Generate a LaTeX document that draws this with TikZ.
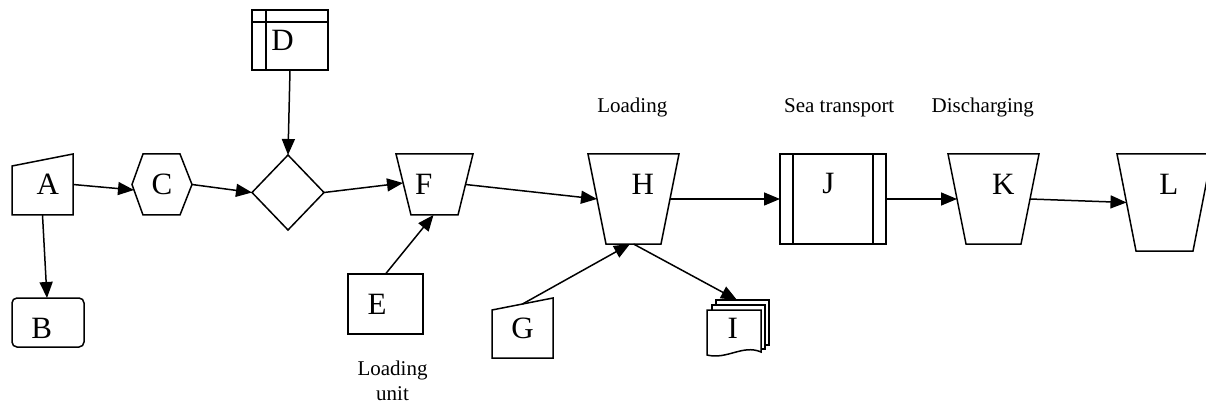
\documentclass[tikz,border=0pt]{standalone}
\usepackage{fontspec}
\setmainfont{Liberation Serif}
\usetikzlibrary{arrows.meta}
\begin{document}
\begin{tikzpicture}[x=1pt,y=-1pt,
  line width=1.5pt, line join=miter,
  frame/.style={draw=none,inner sep=0pt,outer sep=0pt,minimum width=#1},
  boxed/.style={draw,fill=white,inner sep=0pt,outer sep=0pt,minimum width=#1},
  outline/.style={draw,fill=white},
  letter/.style={inner sep=0pt,anchor=base,font=\fontsize{31}{34}\selectfont},
  note/.style={inner sep=0pt,anchor=base,font=\fontsize{21}{25}\selectfont},
  conn/.style={-{Triangle[length=16pt,width=13pt]}}
]
\useasboundingbox (0,0) rectangle (1206,403);

% ---------- shape nodes ----------
\node[frame=61, minimum height=61] (A) at (42.5,184.5) {};
\node[boxed=72, minimum height=49, rounded corners=5pt] (B) at (48,322.5) {};
\node[frame=60, minimum height=61] (C) at (162,184.5) {};
\node[frame=72, minimum height=75] (Dm) at (288,192.5) {};
\node[boxed=76, minimum height=60] (D) at (290,40) {};
\node[boxed=75, minimum height=60] (E) at (385.5,304) {};
\node[frame=77, minimum height=61] (F) at (434.5,184.5) {};
\node[frame=61, minimum height=60] (G) at (522.5,328) {};
\node[frame=91, minimum height=90] (H) at (633.5,199) {};
\node[frame=62, minimum height=58] (I) at (738,329) {};
\node[boxed=106, minimum height=90] (J) at (833,199) {};
\node[frame=91, minimum height=90] (K) at (993.5,199) {};
\node[frame=95, minimum height=97] (L) at (1164.5,202.5) {};

% ---------- outlines ----------
% A: manual input
\draw[outline] (A.south west) -- (A.south east) -- (A.north east) -- ([yshift=-12pt]A.north west) -- cycle;
% C: hexagon
\draw[outline] (C.west) -- ([xshift=11pt]C.north west) -- ([xshift=-12pt]C.north east) -- (C.east)
  -- ([xshift=-12pt]C.south east) -- ([xshift=11pt]C.south west) -- cycle;
% decision diamond
\draw[outline] (Dm.north) -- (Dm.east) -- (Dm.south) -- (Dm.west) -- cycle;
% D: internal storage
\draw ([xshift=14pt]D.north west) -- ([xshift=14pt]D.south west);
\draw ([yshift=-12pt]D.north west) -- ([yshift=-12pt]D.north east);
% F: manual operation
\draw[outline] (F.north west) -- (F.north east) -- ([xshift=-15pt]F.south east) -- ([xshift=15pt]F.south west) -- cycle;
% G: manual input
\draw[outline] (G.south west) -- (G.south east) -- (G.north east) -- ([yshift=-12pt]G.north west) -- cycle;
% H, K, L: manual operations
\draw[outline] (H.north west) -- (H.north east) -- ([xshift=-18pt]H.south east) -- ([xshift=18pt]H.south west) -- cycle;
\draw[outline] (K.north west) -- (K.north east) -- ([xshift=-18pt]K.south east) -- ([xshift=18pt]K.south west) -- cycle;
\draw[outline] (L.north west) -- (L.north east) -- ([xshift=-19pt]L.south east) -- ([xshift=19pt]L.south west) -- cycle;
% I: multi-document
\begin{scope}[shift={(I.north west)}]
  \draw[outline] (9,0) rectangle (62,45);
  \draw[outline] (5,5) rectangle (58,49);
  \draw[outline] (0,10) -- (54,10) -- (54,52) .. controls (36,44) and (20,60) .. (0,55) -- cycle;
\end{scope}
% J: predefined process
\draw ([xshift=13pt]J.north west) -- ([xshift=13pt]J.south west);
\draw ([xshift=-13pt]J.north east) -- ([xshift=-13pt]J.south east);

% ---------- labels ----------
\node[letter] (At) at (47.7,194.3) {A};
\node[letter] (Bt) at (41.7,338.3) {B};
\node[letter] (Ct) at (162,194.3) {C};
\node[letter] (Dt) at (282.5,50.7) {D};
\node[letter] (Et) at (377.2,314.3) {E};
\node[letter] (Ft) at (423.8,194.3) {F};
\node[letter] (Gt) at (522.5,338.3) {G};
\node[letter] (Ht) at (642.8,194.2) {H};
\node[letter] (It) at (732.8,338.3) {I};
\node[letter] (Jt) at (828.3,194) {J};
\node[letter] (Kt) at (1003.2,194.3) {K};
\node[letter] (Lt) at (1168.7,194.3) {L};

\node[note] (n1) at (632.3,112.7) {Loading};
\node[note] (n2) at (839.2,112.3) {Sea transport};
\node[note] (n3) at (982.8,112.3) {Discharging};
\node[note, align=center] (n4) at (392.5,400) {Loading\\unit};

% ---------- connectors ----------
\draw[conn] (A.south) -- ([xshift=-1pt]B.north);
\draw[conn] (A.east) -- ([shift={(2,5.5)}]C.west);
\draw[conn] (C.east) -- (Dm.west);
\draw[conn] (D.south) -- (Dm.north);
\draw[conn] (Dm.east) -- ([shift={(7,-1.5)}]F.west);
\draw[conn] (E.north) -- ([xshift=-1pt]F.south);
\draw[conn] ([xshift=-7.4pt]F.east) -- ([xshift=9pt]H.west);
\draw[conn] ([yshift=-6pt]G.north) -- ([xshift=-3.5pt]H.south);
\draw[conn] (H.south) -- ([xshift=-1pt]I.north);
\draw[conn] ([xshift=-9pt]H.east) -- (J.west);
\draw[conn] (J.east) -- ([xshift=9pt]K.west);
\draw[conn] ([xshift=-9pt]K.east) -- ([xshift=9.5pt]L.west);
\end{tikzpicture}
\end{document}
